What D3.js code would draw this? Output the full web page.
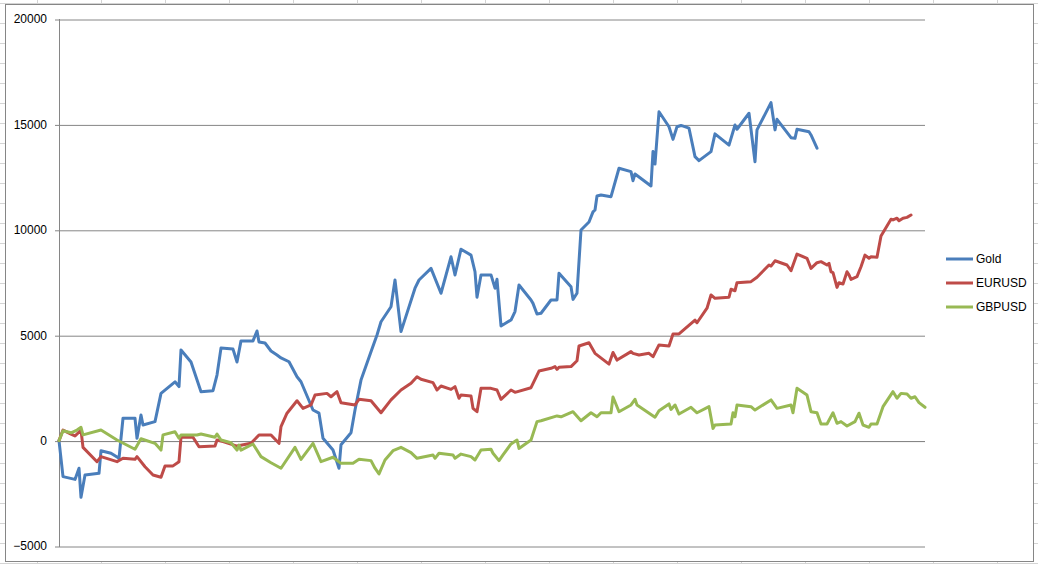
<!DOCTYPE html>
<html>
<head>
<meta charset="utf-8">
<script src="https://cdn.jsdelivr.net/npm/d3@7"></script>
<style>
    body { margin: 0; background: #fff; }
    svg { display: block; }
</style>
</head>
<body>
<svg id="chart"></svg>
<script>

// series as [trade number, cumulative result]
var goldPoints = [[0, 0], [2, -1710], [8, -1840], [10, -1310], [11, -2690], [13, -1630], [20, -1550], [21, -480],
    [26, -600], [30, -840], [32, 1060], [38, 1060], [39, 110], [41, 1210], [42, 740], [48, 900], [51, 2240],
    [58, 2790], [60, 2560], [61, 4300], [66, 3730], [71, 2320], [77, 2370], [79, 3110], [81, 4390], [87, 4340],
    [89, 3730], [91, 4730], [97, 4730], [99, 5200], [100, 4680], [103, 4630], [106, 4250], [109, 4060],
    [111, 3920], [115, 3740], [119, 3030], [121, 2790], [127, 1450], [130, 1300], [132, 110], [137, -450],
    [140, -1310], [141, -200], [146, 370], [148, 1450], [151, 2870], [156, 4220], [159, 5010], [161, 5640],
    [166, 6350], [168, 7620], [171, 5170], [178, 7230], [180, 7620], [186, 8170], [191, 6990], [196, 8720],
    [198, 7860], [201, 9080], [206, 8800], [208, 8010], [209, 6800], [211, 7860], [216, 7860], [218, 7230],
    [219, 7650], [221, 5440], [226, 5720], [228, 6120], [230, 7380], [236, 6670], [237, 6510], [239, 6010],
    [241, 6040], [246, 6670], [249, 6670], [250, 7940], [256, 7300], [257, 6700], [259, 6990], [261, 9990],
    [265, 10370], [267, 10850], [268, 10940], [269, 11600], [271, 11650], [276, 11570], [280, 12920],
    [286, 12760], [287, 12330], [288, 12650], [296, 12080], [297, 13710], [298, 13120], [300, 15600],
    [305, 14890], [307, 14290], [309, 14890], [311, 14950], [315, 14820], [318, 13470], [320, 13280],
    [326, 13710], [328, 14550], [335, 14020], [338, 14970], [339, 14770], [345, 15530], [348, 13230],
    [349, 14740], [356, 16030], [358, 14740], [359, 15240], [366, 14370], [368, 14340], [369, 14770],
    [375, 14650], [376, 14500], [379, 13870]];

var eurusdPoints = [[0, 0], [2, 500], [6, 310], [8, 220], [11, 500], [12, -320], [19, -1000], [21, -760],
    [29, -1000], [32, -840], [38, -890], [39, -760], [43, -1240], [47, -1630], [51, -1740], [53, -1200],
    [57, -1200], [60, -1000], [61, 160], [67, 160], [70, -290], [78, -260], [79, 30], [82, -50], [89, -260],
    [96, -130], [100, 270], [106, 270], [110, -130], [111, 660], [114, 1300], [119, 1890], [122, 1530],
    [126, 1690], [128, 2160], [134, 2240], [136, 2080], [139, 2320], [141, 1800], [148, 1690], [150, 1960],
    [156, 1890], [161, 1320], [166, 1930], [171, 2400], [176, 2720], [179, 3030], [181, 2910], [187, 2750],
    [189, 2400], [191, 2590], [196, 2430], [198, 2560], [200, 2010], [201, 2160], [206, 2120], [207, 1530],
    [209, 1370], [211, 2480], [216, 2480], [219, 2400], [221, 1960], [226, 2400], [228, 2290], [236, 2510],
    [240, 3300], [246, 3430], [248, 3510], [249, 3380], [250, 3480], [256, 3510], [259, 3790], [260, 4490],
    [265, 4640], [268, 4140], [275, 3630], [277, 4180], [279, 3820], [286, 4220], [287, 4140], [290, 4060],
    [295, 4140], [297, 3980], [300, 4540], [305, 4490], [307, 5060], [310, 5060], [318, 5720], [319, 5590],
    [324, 6280], [326, 6910], [328, 6750], [335, 6800], [336, 7180], [338, 7110], [339, 7490], [346, 7540],
    [349, 7750], [355, 8330], [356, 8280], [358, 8530], [364, 8330], [366, 8060], [369, 8850], [374, 8650],
    [376, 8170], [379, 8440], [381, 8490], [384, 8330], [385, 8410], [386, 8010], [387, 7970], [389, 7270],
    [390, 7490], [392, 7430], [394, 8010], [395, 7860], [396, 7650], [399, 7780], [401, 8250], [403, 8800],
    [405, 8650], [406, 8720], [409, 8700], [411, 9710], [416, 10500], [417, 10470], [419, 10550],
    [420, 10430], [422, 10550], [424, 10590], [426, 10700]];

var gbpusdPoints = [[0, 0], [2, 470], [6, 370], [9, 500], [11, 630], [12, 270], [21, 500], [29, 30],
    [38, -410], [41, 90], [48, -130], [51, -450], [52, 270], [58, 420], [60, 110], [61, 270], [69, 270],
    [71, 310], [78, 160], [79, 310], [81, 30], [86, -100], [89, -450], [90, -210], [91, -450], [97, -160],
    [101, -760], [106, -1050], [111, -1310], [118, -320], [121, -890], [127, -130], [131, -1000], [137, -790],
    [141, -1080], [147, -1080], [150, -890], [156, -950], [158, -1310], [160, -1580], [163, -920],
    [167, -480], [171, -320], [176, -570], [179, -840], [187, -680], [188, -840], [190, -600], [197, -680],
    [198, -840], [201, -640], [206, -760], [208, -920], [211, -450], [216, -410], [217, -600], [220, -950],
    [222, -680], [226, -160], [229, 30], [230, -370], [236, 30], [239, 900], [241, 940], [249, 1170],
    [251, 1130], [257, 1370], [261, 940], [266, 1320], [269, 1130], [271, 1320], [276, 1320], [277, 2070],
    [280, 1370], [286, 1690], [288, 1960], [289, 1690], [298, 1110], [300, 1420], [305, 1740], [306, 1480],
    [308, 1690], [310, 1260], [316, 1580], [319, 1320], [325, 1610], [327, 580], [328, 740], [336, 790],
    [337, 1320], [338, 1130], [339, 1690], [346, 1610], [348, 1450], [356, 1930], [359, 1530], [366, 1690],
    [367, 1320], [369, 2480], [374, 2160], [376, 1370], [379, 1320], [381, 790], [384, 790], [387, 1320],
    [389, 820], [391, 900], [394, 690], [398, 900], [400, 1300], [402, 740], [405, 630], [406, 790],
    [409, 790], [412, 1610], [417, 2320], [419, 2010], [421, 2240], [424, 2210], [426, 2010], [428, 2080],
    [430, 1800], [433, 1580]];

var seriesNames = ["Gold", "EURUSD", "GBPUSD"];
var seriesColors = ["#4a7ebb", "#be4b48", "#98b954"];
var yTicks = [-5000, 0, 5000, 10000, 15000, 20000];
var lastTrade = 433;

var width = 1038;
var height = 564;

var svg = d3.select("#chart").attr("width", width).attr("height", height);

// worksheet cells behind the chart
var sheet = svg.append("g").style("stroke", "#d4d4d4").style("stroke-width", 1);
sheet.selectAll("line.col")
    .data(d3.range(37, width, 64))
    .enter().append("line")
    .attr("x1", function (d) { return d + 0.5; })
    .attr("x2", function (d) { return d + 0.5; })
    .attr("y1", 0).attr("y2", height);
sheet.selectAll("line.row")
    .data(d3.range(3, height, 20))
    .enter().append("line")
    .attr("x1", 0).attr("x2", width)
    .attr("y1", function (d) { return d + 0.5; })
    .attr("y2", function (d) { return d + 0.5; });

// chart area
svg.append("rect")
    .attr("x", 5.5).attr("y", 4.5)
    .attr("width", 1028).attr("height", 557)
    .style("fill", "#fff")
    .style("stroke", "#868686")
    .style("stroke-width", 1);

var plot = { left: 59, right: 925, top: 19, bottom: 546 };

var x = d3.scaleLinear().domain([0, lastTrade]).range([plot.left, plot.right]);
var y = d3.scaleLinear().domain([-5000, 20000]).range([plot.bottom, plot.top]);

// gridlines + value axis
var yAxis = d3.axisLeft(y)
    .tickValues(yTicks)
    .tickSize(-(plot.right - plot.left))
    .tickSizeOuter(0)
    .tickPadding(8)
    .tickFormat(d3.format("d"));

var gy = svg.append("g")
    .attr("transform", "translate(" + plot.left + ",0)")
    .call(yAxis);
gy.select(".domain").remove();
gy.selectAll(".tick line")
    .attr("x1", -4)
    .attr("transform", "translate(0,0.5)")
    .style("stroke", "#868686");
gy.selectAll(".tick text")
    .attr("x", -12)
    .style("font-family", "'Liberation Sans', Arial, sans-serif")
    .style("font-size", "12px")
    .style("fill", "#000");

svg.append("line")
    .attr("x1", plot.left + 0.5).attr("x2", plot.left + 0.5)
    .attr("y1", plot.top).attr("y2", plot.bottom + 1)
    .style("stroke", "#868686");

// category axis crosses at 0
svg.append("line")
    .attr("x1", plot.left).attr("x2", plot.right)
    .attr("y1", Math.round(y(0)) + 0.5).attr("y2", Math.round(y(0)) + 0.5)
    .style("stroke", "#868686");

var line = d3.line()
    .x(function (d) { return x(d[0]); })
    .y(function (d) { return y(d[1]); });

var allSeries = [goldPoints, eurusdPoints, gbpusdPoints];

svg.append("g")
    .selectAll("path")
    .data(allSeries)
    .enter().append("path")
    .attr("d", line)
    .style("fill", "none")
    .style("stroke", function (d, i) { return seriesColors[i]; })
    .style("stroke-width", 3)
    .style("stroke-linejoin", "round")
    .style("stroke-linecap", "round");

// legend
var legend = svg.append("g")
    .selectAll("g")
    .data(seriesNames)
    .enter().append("g")
    .attr("transform", function (d, i) { return "translate(946," + (259 + i * 24) + ")"; });

legend.append("line")
    .attr("x1", 0).attr("x2", 27)
    .attr("y1", 0).attr("y2", 0)
    .style("stroke", function (d, i) { return seriesColors[i]; })
    .style("stroke-width", 3);

legend.append("text")
    .attr("x", 30)
    .attr("dy", "0.35em")
    .style("font-family", "'Liberation Sans', Arial, sans-serif")
    .style("font-size", "12px")
    .style("fill", "#000")
    .text(function (d) { return d; });

</script>
</body>
</html>
